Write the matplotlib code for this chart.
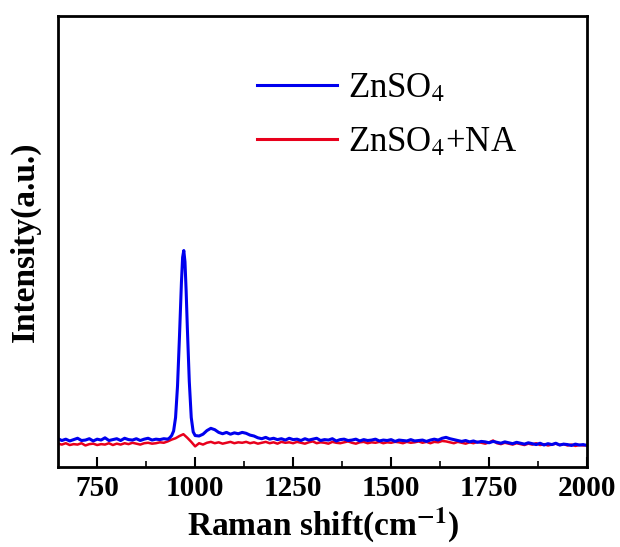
import matplotlib
matplotlib.use("Agg")
import matplotlib.pyplot as plt
import numpy as np
from matplotlib.ticker import MultipleLocator, NullLocator

# ---------------------------------------------------------------- data
# blue : ZnSO4, baseline part (650-930 step 10)
blue_x_left = np.arange(650, 931, 10)
blue_y_left = [6.3, 5.9, 6.2, 5.8, 6.1, 6.4, 5.9, 6.0, 6.3, 5.8,
               6.2, 6.0, 6.5, 5.9, 6.1, 6.3, 5.9, 6.4, 6.1, 6.0,
               6.3, 5.9, 6.2, 6.4, 6.0, 6.2, 6.1, 6.3, 6.2]
# peak near 970
blue_x_peak = [935, 940, 945, 950, 955, 960, 965, 968, 971, 974, 977, 980, 985, 990, 995]
blue_y_peak = [6.5, 7.0, 8.0, 11.0, 18.0, 29, 41, 46.5, 48, 45.5, 39, 31, 19, 11, 7.8]
# rest (1000-2000 step 10)
blue_x_right = np.arange(1000, 2001, 10)
blue_y_right = [7.0, 6.9, 7.3, 8.1, 8.6, 8.3, 7.7, 7.4, 7.7, 7.3,
                7.6, 7.4, 7.7, 7.5, 7.1, 6.9, 6.5, 6.3, 6.6, 6.2,
                6.4, 6.1, 6.3, 6.0, 6.4, 6.1, 6.2, 5.9, 6.3, 6.0,
                6.2, 6.4, 5.9, 6.1, 6.0, 6.3, 5.8, 6.1, 6.2, 5.9,
                6.0, 6.2, 5.8, 6.1, 5.9, 6.0, 6.2, 5.8, 6.0, 5.9,
                6.1, 5.7, 6.0, 5.9, 5.8, 6.1, 5.8, 5.9, 6.0, 5.7,
                6.0, 6.2, 6.0, 6.4, 6.6, 6.3, 6.1, 5.9, 5.7, 5.9,
                5.6, 5.8, 5.5, 5.7, 5.6, 5.4, 5.7, 5.5, 5.3, 5.6,
                5.4, 5.2, 5.5, 5.3, 5.1, 5.4, 5.2, 5.0, 5.3, 4.9,
                5.2, 5.0, 5.3, 4.9, 5.1, 5.0, 4.8, 5.1, 4.9, 5.0,
                4.8]

# red : ZnSO4+NA (650-2000 step 10)
red_x = np.arange(650, 2001, 10)
red_y = [5.2, 5.0, 5.3, 4.9, 5.1, 5.0, 5.3, 4.8, 5.1, 5.2,
         4.9, 5.1, 5.0, 5.3, 4.9, 5.2, 5.0, 5.3, 5.1, 5.4,
         5.2, 5.0, 5.3, 5.4, 5.2, 5.3, 5.5, 5.4, 5.7, 6.1,
         6.4, 6.9, 7.3, 6.5, 5.6, 4.6, 5.3, 5.0, 5.4, 5.6,
         5.3, 5.5, 5.2, 5.4, 5.6, 5.3, 5.5, 5.4, 5.6, 5.3,
         5.5, 5.2, 5.4, 5.6, 5.3, 5.5, 5.2, 5.6, 5.4, 5.5,
         5.3, 5.6, 5.4, 5.2, 5.5, 5.7, 5.3, 5.5, 5.4, 5.2,
         5.6, 5.4, 5.3, 5.5, 5.7, 5.4, 5.2, 5.5, 5.6, 5.3,
         5.5, 5.4, 5.6, 5.3, 5.5, 5.4, 5.6, 5.5, 5.3, 5.6,
         5.4, 5.5, 5.7, 5.4, 5.6, 5.3, 5.6, 5.5, 5.8, 5.7,
         5.5, 5.3, 5.6, 5.4, 5.2, 5.5, 5.3, 5.6, 5.4, 5.2,
         5.5, 5.9, 5.3, 5.1, 5.4, 5.2, 5.0, 5.3, 5.1, 4.9,
         5.2, 5.0, 5.3, 4.9, 5.1, 4.8, 5.0, 5.2, 4.9, 5.1,
         4.8, 5.0, 4.7, 4.9, 4.8, 4.9]

blue_x = np.concatenate([blue_x_left, blue_x_peak, blue_x_right])
blue_y = np.concatenate([blue_y_left, blue_y_peak, blue_y_right])

# ---------------------------------------------------------------- plot
plt.rcParams['font.family'] = 'Liberation Serif'
plt.rcParams['mathtext.fontset'] = 'stix'

fig = plt.figure(figsize=(6.2, 5.47), dpi=100)
ax = fig.add_axes([0.0935, 0.146, 0.8535, 0.825])

l_red, = ax.plot(red_x, red_y, color='#e8001c', lw=1.8)
l_blue, = ax.plot(blue_x, blue_y, color='#0000ee', lw=2.2)

ax.set_xlim(650, 2000)
ax.set_ylim(0, 100)
ax.xaxis.set_major_locator(MultipleLocator(250))
ax.xaxis.set_minor_locator(MultipleLocator(125))
ax.yaxis.set_major_locator(NullLocator())
ax.tick_params(axis='x', which='major', direction='in', length=7, width=1.5,
               labelsize=21, pad=6)
ax.tick_params(axis='x', which='minor', direction='in', length=4, width=1.2)
for lab in ax.get_xticklabels():
    lab.set_fontweight('bold')
for s in ax.spines.values():
    s.set_linewidth(2)

ax.set_xlabel(r'Raman shift(cm$^{\mathbf{-1}}$)', fontsize=24, fontweight='bold', labelpad=2)
ax.set_ylabel('Intensity(a.u.)', fontsize=24, fontweight='bold', labelpad=12)

leg = ax.legend([l_blue, l_red], [r'ZnSO$_4$', r'ZnSO$_4$+NA'], frameon=False,
                loc='upper left', bbox_to_anchor=(0.318, 0.945), fontsize=25,
                handlelength=2.3, handletextpad=0.3, labelspacing=0.6)
for h in leg.get_lines():
    h.set_linewidth(2.2)

plt.savefig("out.png", dpi=100)
